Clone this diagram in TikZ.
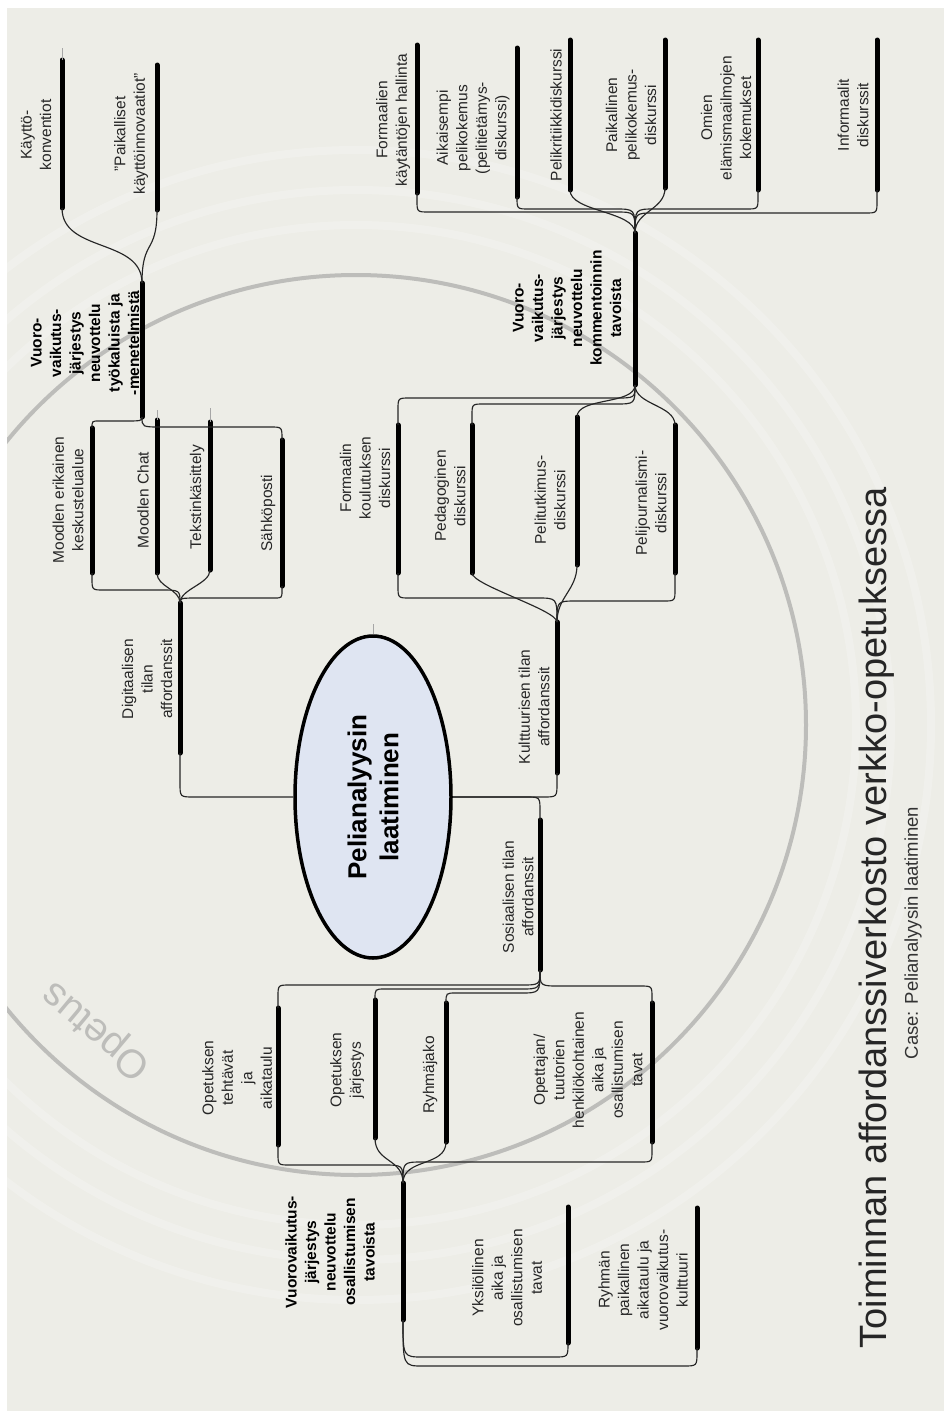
\documentclass[tikz,border=0pt]{standalone}
\usepackage{fontspec}
\setmainfont{Liberation Sans}
\usetikzlibrary{calc,shapes.geometric}
\definecolor{bg}{HTML}{EDEDE7}
\definecolor{ringgrey}{HTML}{BDBDBA}
\definecolor{rootfill}{HTML}{DFE5F2}
\tikzset{
  conn/.style={draw=black!85, line width=1.15pt},
  barline/.style={line width=5pt, line cap=round},
  tail/.style={draw=black!35, line width=1pt},
  lbl/.style={rotate=90, align=center, inner sep=0pt, font=\fontsize{15.5}{19.5}\selectfont, text=black!85},
  lblb/.style={rotate=90, align=center, inner sep=0pt, font=\fontsize{15.5}{19.5}\selectfont\bfseries, text=black},
}
\newcommand{\mkbar}[4]{\coordinate (#1a) at (#2,#3); \coordinate (#1b) at (#2,#4); \draw[barline] (#1a) -- (#1b);}
% fork-to-child connector with a horizontal run at a level (px)
\newcommand{\hlink}[4][12]{%
  \draw[conn] let \p1=(#2), \p2=(#3), \n1={sign(\x2-\x1)}, \n2={sign(\y2+#4)} in
    (#2) .. controls (\x1,-#4pt) .. ({\x1+\n1*20pt},-#4pt)
    -- ({\x2-\n1*#1pt},-#4pt) .. controls (\x2,-#4pt) .. (\x2,{-#4pt+\n2*#1pt}) -- (#3);}
% S-shaped connector
\newcommand{\slink}[4]{\draw[conn] (#1) .. controls +(0,#3) and +(0,#4) .. (#2);}
\begin{document}
\begin{tikzpicture}[x=1pt,y=-1pt]
\useasboundingbox (0,0) rectangle (944,1411);
\fill[white] (0,0) rectangle (944,1411);
\fill[bg] (7,8) rectangle (944,1411);
\begin{scope}
  \clip (7,8) rectangle (944,1411);
  \foreach \r in {500,535,575}
    \draw[white, opacity=0.22, line width=8pt] (356,725) circle [radius=\r pt];
  \draw[ringgrey, line width=4pt] (356,725) circle [radius=450pt];
\end{scope}
\node[rotate=140, text=ringgrey, font=\fontsize{40}{40}\selectfont, inner sep=0pt] (opetus) at (97,1030) {Opetus};

% central node
\node[ellipse, draw, line width=3.5pt, fill=rootfill, minimum width=156pt, minimum height=322pt, inner sep=0pt] (root) at (373,797) {};
\node[lblb, font=\fontsize{26}{32}\selectfont\bfseries] (roottext) at (root.center) {Pelianalyysin\\laatiminen};
\draw[tail] (root.north) -- +(0,-10);

% digital branch
\mkbar{DI}{180}{603}{753}
\node[lbl] (DIt) at (147,679) {Digitaalisen\\tilan\\affordanssit};
\mkbar{ME}{92}{428}{573}
\node[lbl] (MEt) at (68,500) {Moodlen erikainen\\keskustelualue};
\mkbar{MC}{157}{420}{573}
\node[lbl] (MCt) at (143,500) {Moodlen Chat};
\mkbar{TK}{210}{422}{570}
\node[lbl] (TKt) at (197,497) {Tekstinkäsittely};
\mkbar{SP}{282}{440}{586}
\node[lbl] (SPt) at (268,513) {Sähköposti};
\draw[tail] (MCa) -- +(0,-10);
\draw[tail] (TKa) -- +(0,-14);

\mkbar{VA}{142}{283}{417}
\node[lblb] (VAt) at (85,343) {Vuoro-\\vaikutus-\\järjestys\\neuvottelu\\työkaluista ja\\-menetelmistä};
\mkbar{KK}{62}{60}{208}
\node[lbl] (KKt) at (36,135) {Käyttö-\\konventiot};
\mkbar{PK}{157}{65}{210}
\node[lbl] (PKt) at (131,134) {"Paikalliset\\käyttöinnovaatiot"};
\draw[tail] (KKa) -- +(0,-12);

% cultural branch
\mkbar{KU}{557}{622}{773}
\node[lbl] (KUt) at (534,707) {Kulttuurisen tilan\\affordanssit};
\mkbar{FK}{398}{425}{573}
\node[lbl] (FKt) at (365,478) {Formaalin\\koulutuksen\\diskurssi};
\mkbar{PD}{472}{425}{573}
\node[lbl] (PDt) at (450,496) {Pedagoginen\\diskurssi};
\mkbar{PT}{577}{417}{565}
\node[lbl] (PTt) at (550,500) {Pelitutkimus-\\diskurssi};
\mkbar{PJ}{675}{425}{573}
\node[lbl] (PJt) at (651,503) {Pelijournalismi-\\diskurssi};

\mkbar{VB}{635}{233}{385}
\node[lblb] (VBt) at (567,308) {Vuoro-\\vaikutus-\\järjestys\\neuvottelu\\kommentoinnin\\tavoista};
\mkbar{FH}{417}{45}{193}
\node[lbl] (FHt) at (393,120) {Formaalien\\käytäntöjen hallinta};
\mkbar{AP}{517}{48}{197}
\node[lbl] (APt) at (473,128) {Aikaisempi\\pelikokemus\\(pelitietämys-\\diskurssi)};
\mkbar{PR}{570}{40}{190}
\node[lbl] (PRt) at (556,115) {Pelikritiikkidiskurssi};
\mkbar{PP}{665}{40}{188}
\node[lbl] (PPt) at (631,115) {Paikallinen\\pelikokemus-\\diskurssi};
\mkbar{OE}{758}{40}{190}
\node[lbl] (OEt) at (726,118) {Omien\\elämismaailmojen\\kokemukset};
\mkbar{ID}{877}{40}{190}
\node[lbl] (IDt) at (853,115) {Informaalit\\diskurssit};

% social branch
\mkbar{SO}{540}{820}{970}
\node[lbl] (SOt) at (518,897) {Sosiaalisen tilan\\affordanssit};
\mkbar{OT}{278}{1008}{1145}
\node[lbl] (OTt) at (237,1078) {Opetuksen\\tehtävät\\ja\\aikataulu};
\mkbar{OJ}{375}{1000}{1138}
\node[lbl] (OJt) at (347,1070) {Opetuksen\\järjestys};
\mkbar{RJ}{446}{1003}{1142}
\node[lbl] (RJt) at (430,1075) {Ryhmäjako};
\mkbar{OP}{652}{1003}{1142}
\node[lbl] (OPt) at (588,1070) {Opettajan/\\tuutorien\\henkilökohtainen\\aika ja\\osallistumisen\\tavat};

\mkbar{VC}{403}{1183}{1320}
\node[lblb] (VCt) at (330,1252) {Vuorovaikutus-\\järjestys\\neuvottelu\\osallistumisen\\tavoista};
\mkbar{YK}{568}{1207}{1343}
\node[lbl] (YKt) at (507,1278) {Yksilöllinen\\aika ja\\osallistumisen\\tavat};
\mkbar{RP}{697}{1208}{1348}
\node[lbl] (RPt) at (643,1280) {Ryhmän\\paikallinen\\aikataulu ja\\vuorovaikutus-\\kulttuuri};

% connectors
\hlink[14]{root.west}{DIb}{797}
\hlink[14]{root.east}{KUb}{797}
\hlink[14]{root.east}{SOa}{797}

\hlink{DIa}{MEb}{590}
\slink{DIa}{MCb}{-14}{14}
\slink{DIa}{TKb}{-14}{14}
\hlink[8]{DIa}{SPb}{598}
\hlink[7]{VAb}{MEa}{421}
\hlink[12]{VAb}{SPa}{427}
\slink{VAa}{KKb}{-45}{45}
\slink{VAa}{PKb}{-45}{45}

\hlink{KUa}{FKb}{598}
\slink{KUa}{PDb}{-12}{12}
\slink{KUa}{PTb}{-25}{25}
\hlink{KUa}{PJb}{601}
\hlink{VBb}{FKa}{398}
\hlink{VBb}{PDa}{404}
\slink{VBb}{PTa}{20}{-20}
\slink{VBb}{PJa}{20}{-20}
\hlink{VBa}{FHb}{212}
\hlink{VBa}{APb}{209}
\slink{VBa}{PRb}{-22}{22}
\slink{VBa}{PPb}{-22}{22}
\hlink{VBa}{OEb}{209}
\hlink{VBa}{IDb}{213}

\hlink{SOb}{OTa}{985}
\hlink[10]{SOb}{OJa}{989}
\hlink[10]{SOb}{RJa}{993}
\hlink{SOb}{OPa}{986}
\hlink{VCa}{OTb}{1165}
\slink{VCa}{OJb}{-25}{25}
\slink{VCa}{RJb}{-25}{25}
\hlink{VCa}{OPb}{1162}
\hlink[14]{VCb}{YKb}{1357}
\hlink[14]{VCb}{RPb}{1366}

% title
\node[rotate=90, font=\fontsize{38}{40}\selectfont, text=black!85, inner sep=0pt] (title) at (877,918) {Toiminnan affordanssiverkosto verkko-opetuksessa};
\node[rotate=90, font=\fontsize{18.5}{20}\selectfont, text=black!80, inner sep=0pt] (sub) at (913,933) {Case: Pelianalyysin laatiminen};
\end{tikzpicture}
\end{document}
